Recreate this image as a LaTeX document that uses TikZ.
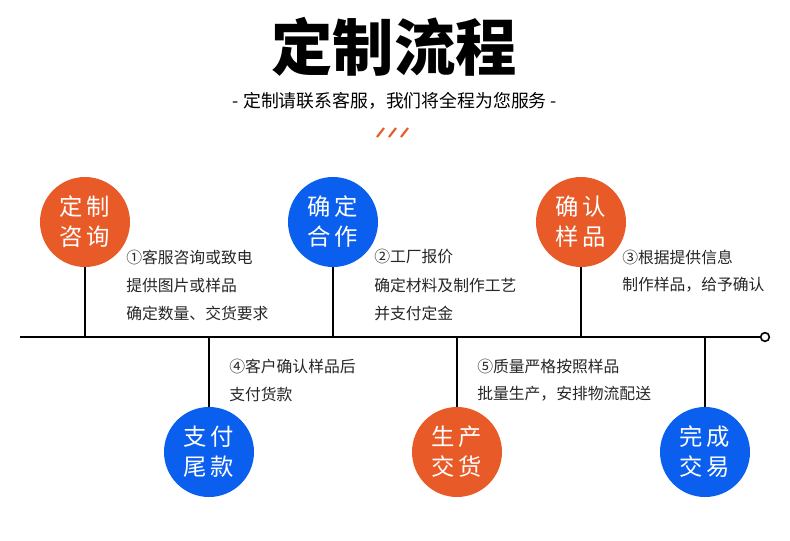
\documentclass[tikz,border=0pt]{standalone}
\usepackage{fontspec}
\setmainfont{Noto Sans CJK SC}
\definecolor{myorange}{HTML}{E85A28}
\definecolor{myblue}{HTML}{0B5FEF}
\begin{document}
\begin{tikzpicture}[x=0.75pt,y=-0.75pt,
  ball/.style={circle,minimum size=67.5pt,inner sep=0pt,text=white,
    font=\fontsize{17.5}{22.5}\selectfont,align=center},
  oball/.style={ball,fill=myorange},
  bball/.style={ball,fill=myblue},
  desc/.style={anchor=west,inner sep=0pt,font=\fontsize{11.85}{14}\selectfont,text=black!85},
  axis/.style={line width=1.5pt,black},
  stem/.style={line width=1.5pt,black},
  slash/.style={line width=1.6pt,myorange}]
\useasboundingbox (0,0) rectangle (790,540);
% title
\node (title) at (394,47) {\fontsize{46}{50}\selectfont\bfseries 定制流程};
\node (sub) at (395,101) {\fontsize{13.4}{16}\selectfont - 定制请联系客服，我们将全程为您服务 -};
\coordinate (s1a) at (377,137); \coordinate (s1b) at (384,128);
\coordinate (s2a) at (389,137); \coordinate (s2b) at (396,128);
\coordinate (s3a) at (401,137); \coordinate (s3b) at (408,128);
\draw[slash] (s1a) -- (s1b);
\draw[slash] (s2a) -- (s2b);
\draw[slash] (s3a) -- (s3b);
% axis
\coordinate (L0) at (20,337);
\node[circle,draw,line width=1.2pt,inner sep=0pt,minimum size=6.5pt] (Lend) at (765,337) {};
\draw[axis] (L0) -- (Lend);
% top circles
\node[oball] (c1) at (85,222) {定\hspace{3pt}制\\咨\hspace{3pt}询};
\node[bball] (c2) at (333,222) {确\hspace{3pt}定\\合\hspace{3pt}作};
\node[oball] (c3) at (581,222) {确\hspace{3pt}认\\样\hspace{3pt}品};
% bottom circles
\node[bball] (c4) at (209,452) {支\hspace{3pt}付\\尾\hspace{3pt}款};
\node[oball] (c5) at (457,452) {生\hspace{3pt}产\\交\hspace{3pt}货};
\node[bball] (c6) at (705,452) {完\hspace{3pt}成\\交\hspace{3pt}易};
% stem coordinates
\coordinate (p1) at (85,337);
\coordinate (p2) at (333,337);
\coordinate (p3) at (581,337);
\coordinate (p4) at (209,337);
\coordinate (p5) at (457,337);
\coordinate (p6) at (705,337);
\draw[stem] (c1.south) -- (p1);
\draw[stem] (c2.south) -- (p2);
\draw[stem] (c3.south) -- (p3);
\draw[stem] (c4.north) -- (p4);
\draw[stem] (c5.north) -- (p5);
\draw[stem] (c6.north) -- (p6);
% descriptions
\node[desc] (d1a) at (126,257) {①客服咨询或致电};
\node[desc] (d1b) at (126,285) {提供图片或样品};
\node[desc] (d1c) at (126,313) {确定数量、交货要求};
\node[desc] (d2a) at (374,257) {②工厂报价};
\node[desc] (d2b) at (374,285) {确定材料及制作工艺};
\node[desc] (d2c) at (374,313) {并支付定金};
\node[desc] (d3a) at (622,257) {③根据提供信息};
\node[desc] (d3b) at (622,285) {制作样品，给予确认};
\node[desc] (d4a) at (229,366) {④客户确认样品后};
\node[desc] (d4b) at (229,394) {支付货款};
\node[desc] (d5a) at (477,366) {⑤质量严格按照样品};
\node[desc] (d5b) at (477,394) {批量生产，安排物流配送};
\end{tikzpicture}
\end{document}
